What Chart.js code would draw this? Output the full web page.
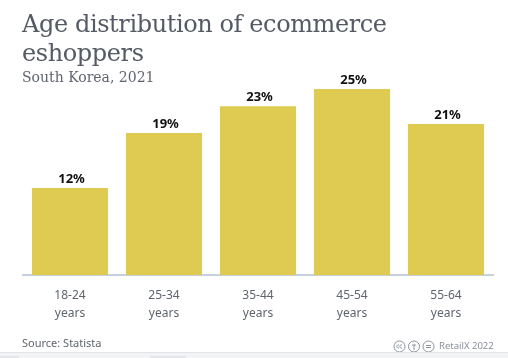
<!DOCTYPE html>
<html>
<head>
<meta charset="utf-8">
<script src="https://cdn.jsdelivr.net/npm/chart.js@4"></script>
<style>
  html, body { margin: 0; padding: 0; background: #fff; overflow: hidden; }
  #page { position: relative; width: 508px; height: 358px; overflow: hidden; }
  #title { position: absolute; left: 22px; top: 10px; font: 24px/29px "DejaVu Serif", serif; color: #555b64; letter-spacing: -0.4px; white-space: nowrap; }
  #subtitle { position: absolute; left: 22px; top: 67px; font: 14px/20px "DejaVu Serif", serif; color: #5f656d; }
  #chartBox { position: absolute; left: 0; top: 0; width: 508px; height: 358px; }
  #source { position: absolute; left: 22px; top: 335px; font: 11px/16px "Noto Sans", sans-serif; color: #5f656d; }
  #credit { position: absolute; left: 393px; top: 338px; font: 9.5px/16px "Noto Sans", sans-serif; color: #8a9099; display: flex; align-items: center; }
  #credit span { margin-left: 4px; }
  #strip { position: absolute; left: 0; top: 352px; width: 508px; height: 6px; background: #f3f4f6; border-top: 1px solid #e2e4e8; box-sizing: border-box; }
  .thumb { position: absolute; top: 356px; height: 2px; background: #e4e6ea; }
</style>
</head>
<body>
<div id="page">
  <div id="chartBox"><canvas id="myChart" width="508" height="358"></canvas></div>
  <div id="title">Age distribution of ecommerce<br>eshoppers</div>
  <div id="subtitle">South Korea, 2021</div>
  <div id="source">Source: Statista</div>
  <div id="credit">
    <svg width="42" height="13" viewBox="0 0 42 13" fill="none" stroke="#8a9099">
      <circle cx="6.5" cy="6.5" r="5.5"/><circle cx="21" cy="6.5" r="5.5"/><circle cx="35.5" cy="6.5" r="5.5"/>
      <path d="M21 5v5M19 5h4M33 5.5h5M33 7.5h5"/>
      <path d="M6 5a1.6 1.6 0 1 0 0 3M9 5a1.6 1.6 0 1 0 0 3"/>
    </svg>
    <span>RetailX 2022</span>
  </div>
  <div id="strip"></div>
  <div class="thumb" style="left:0;width:19px"></div>
  <div class="thumb" style="left:150px;width:36px"></div>
</div>
<script>
const categories = [['18-24', 'years'], ['25-34', 'years'], ['35-44', 'years'], ['45-54', 'years'], ['55-64', 'years']];
const shares = [11.7, 19.1, 22.7, 25, 20.3];
const shareLabels = ['12%', '19%', '23%', '25%', '21%'];

// puts the percent text just above each bar
const barLabels = {
  id: 'barLabels',
  afterDatasetsDraw(chart) {
    const c = chart.ctx;
    c.save();
    c.font = 'bold 13px "Noto Sans", sans-serif';
    c.fillStyle = '#111';
    c.textAlign = 'center';
    c.textBaseline = 'alphabetic';
    chart.getDatasetMeta(0).data.forEach((bar, i) => {
      c.fillText(shareLabels[i], bar.x + 1.5, bar.y - 5);
    });
    c.restore();
  }
};

new Chart(document.getElementById('myChart'), {
  type: 'bar',
  data: {
    labels: categories,
    datasets: [{
      data: shares,
      backgroundColor: '#e0cb52',
      barPercentage: 0.81,
      categoryPercentage: 1
    }]
  },
  options: {
    responsive: false,
    animation: false,
    layout: { padding: { left: 23, right: 15, top: 89, bottom: 24 } },
    plugins: { legend: { display: false }, tooltip: { enabled: false } },
    scales: {
      x: {
        grid: { display: false, drawTicks: false },
        border: { color: '#c5d0e3', width: 2 },
        ticks: { color: '#5f656d', font: { size: 12, family: '"Noto Sans", sans-serif', lineHeight: 1.45 }, padding: 12, maxRotation: 0 }
      },
      y: {
        display: false,
        min: 0,
        max: 25
      }
    }
  },
  plugins: [barLabels]
});
</script>
</body>
</html>
